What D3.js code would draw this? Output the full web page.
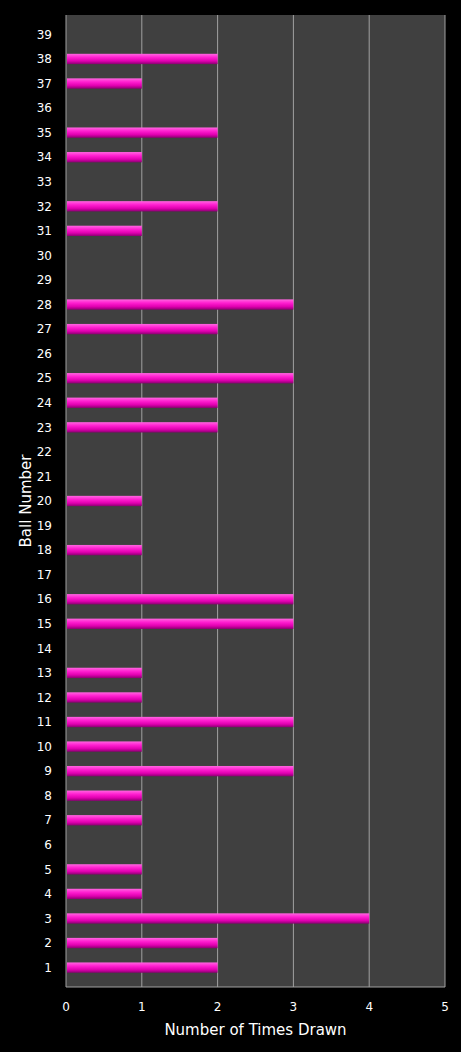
<!DOCTYPE html><html><head><script src="https://cdn.jsdelivr.net/npm/d3@7"></script>
<style>body{margin:0;background:#000}</style></head><body><svg id="c" width="461" height="1052"></svg>
<script>
const balls = d3.range(1,40).map(String);
const counts = [2,2,4,1,1,0,1,1,3,1,3,1,1,0,3,3,0,1,0,1,0,0,2,2,3,0,2,3,0,0,1,2,0,1,2,0,1,2,0];
const xTicks = [0,1,2,3,4,5];
const svg = d3.select("#c");
const m={l:66,r:445,t:15,b:987};
const x=d3.scaleLinear().domain([0,5]).range([m.l,m.r]);
const y=d3.scaleBand().domain(balls).range([m.b,m.t]).padding(0.58);
const defs=svg.append("defs");
const g=defs.append("linearGradient").attr("id","bg").attr("x1",0).attr("y1",0).attr("x2",0).attr("y2",1);
[[0,"#ff66e0"],[0.35,"#ff1fd0"],[0.7,"#e000b0"],[1,"#8a0070"]].forEach(s=>g.append("stop").attr("offset",s[0]).attr("stop-color",s[1]));
svg.append("rect").attr("x",m.l).attr("y",m.t).attr("width",m.r-m.l).attr("height",m.b-m.t).attr("fill","#404040");
svg.selectAll(".gl").data(xTicks.slice(1)).join("line").attr("x1",d=>x(d)).attr("x2",d=>x(d)).attr("y1",m.t).attr("y2",m.b).attr("stroke","#a0a0a0").attr("stroke-width",1);
svg.append("line").attr("x1",m.l).attr("x2",m.l).attr("y1",m.t).attr("y2",m.b).attr("stroke","#a0a0a0");
svg.append("line").attr("x1",m.l).attr("x2",m.r).attr("y1",m.b).attr("y2",m.b).attr("stroke","#a0a0a0");
svg.selectAll(".bar").data(counts.map((c,i)=>({b:balls[i],c})).filter(d=>d.c>0)).join("rect")
 .attr("x",x(0)+1).attr("y",d=>y(d.b)).attr("width",d=>x(d.c)-x(0)-1).attr("height",y.bandwidth()).attr("fill","url(#bg)");
svg.selectAll(".yl").data(balls).join("text").attr("x",52).attr("y",d=>y(d)+y.bandwidth()/2).attr("dy","0.35em")
 .attr("text-anchor","end").attr("fill","#fff").attr("font-family","DejaVu Sans, sans-serif").attr("font-size",12).text(d=>d);
svg.selectAll(".xl").data(xTicks).join("text").attr("x",d=>x(d)).attr("y",1007).attr("dy","0.35em")
 .attr("text-anchor","middle").attr("fill","#fff").attr("font-family","DejaVu Sans, sans-serif").attr("font-size",12).text(d=>d);
svg.append("text").attr("x",(m.l+m.r)/2).attr("y",1035).attr("text-anchor","middle").attr("fill","#fff")
 .attr("font-family","DejaVu Sans, sans-serif").attr("font-size",15).text("Number of Times Drawn");
svg.append("text").attr("transform",`translate(31,${(m.t+m.b)/2}) rotate(-90)`).attr("text-anchor","middle").attr("fill","#fff")
 .attr("font-family","DejaVu Sans, sans-serif").attr("font-size",15).text("Ball Number");
</script></body></html>
